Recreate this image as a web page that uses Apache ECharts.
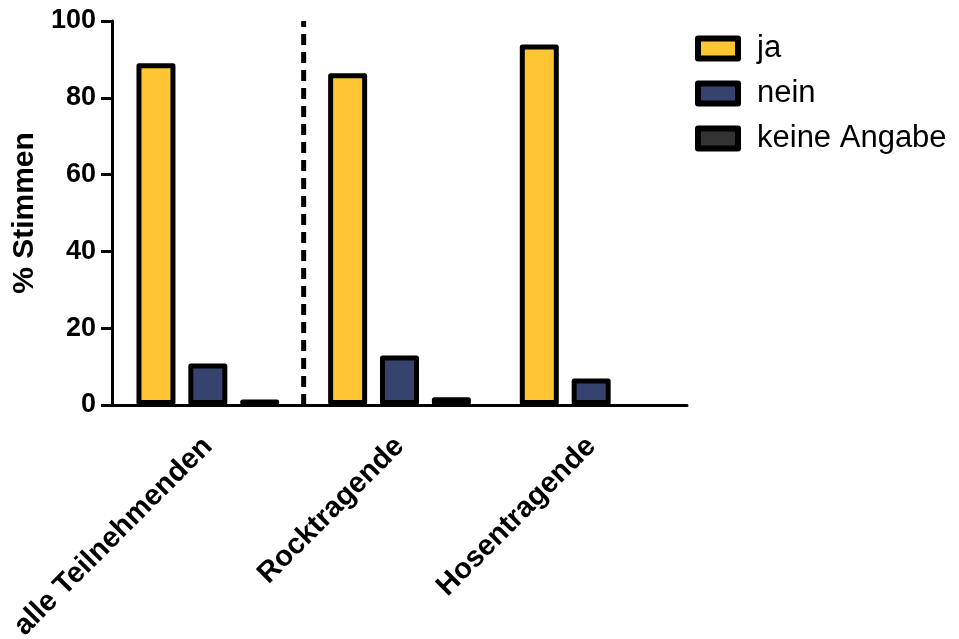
<!DOCTYPE html>
<html>
<head>
<meta charset="utf-8">
<script src="https://cdn.jsdelivr.net/npm/echarts@6/dist/echarts.min.js"></script>
<style>html,body{margin:0;padding:0;background:#fff}#c{width:959px;height:639px}</style>
</head>
<body>
<div id="c"></div>
<script>
const categories = ['alle Teilnehmenden', 'Rocktragende', 'Hosentragende'];
const seriesNames = ['ja', 'nein', 'keine Angabe'];
const jaValues = [89.0, 86.4, 93.9];
const neinValues = [10.8, 12.9, 6.9];
const keineValues = [1.4, 2.0, null];
const yTicks = [0, 20, 40, 60, 80, 100];
const dividerLine = [[1, 0], [1, 100]];

const FONT = '"Liberation Sans", Arial, sans-serif';
const colors = ['#FFC533', '#36436F', '#333333'];
const chart = echarts.init(document.getElementById('c'));
const barStyle = c => ({ color: c, borderColor: '#000', borderWidth: 5, borderJoin: 'round' });

chart.setOption({
  animation: false,
  backgroundColor: '#fff',
  grid: { left: 112, right: 272, top: 21, bottom: 234, containLabel: false, outerBoundsMode: 'none' },
  legend: {
    data: seriesNames,
    orient: 'vertical',
    left: 690,
    top: 28,
    icon: 'rect',
    itemWidth: 40,
    itemHeight: 20,
    itemGap: 14,
    itemStyle: { borderWidth: 6, borderColor: '#000' },
    textStyle: { fontFamily: FONT, fontSize: 31, lineHeight: 20, color: '#000', padding: [0, 0, 0, 14] },
    selectedMode: false
  },
  xAxis: [{
    type: 'category',
    data: categories,
    axisLine: { lineStyle: { color: '#000', width: 3 } },
    axisTick: { alignWithLabel: true, length: 12, lineStyle: { color: '#000', width: 3 } },
    axisLabel: { rotate: 45, margin: 37, fontFamily: FONT, fontWeight: 'bold', fontSize: 29, color: '#000' }
  }, {
    type: 'value', min: 0, max: 3, show: false
  }],
  yAxis: {
    type: 'value',
    min: yTicks[0],
    max: yTicks[yTicks.length - 1],
    interval: 20,
    name: '% Stimmen',
    nameLocation: 'middle',
    nameGap: 60,
    nameTextStyle: { fontFamily: FONT, fontWeight: 'bold', fontSize: 30, color: '#000' },
    splitLine: { show: false },
    axisLine: { show: true, lineStyle: { color: '#000', width: 3 } },
    axisTick: { show: true, length: 11, lineStyle: { color: '#000', width: 3 } },
    axisLabel: { margin: 16, fontFamily: FONT, fontWeight: 'bold', fontSize: 27, color: '#000' }
  },
  series: [
    { name: seriesNames[0], type: 'bar', data: jaValues, barWidth: 39, barGap: '33%', itemStyle: barStyle(colors[0]) },
    { name: seriesNames[1], type: 'bar', data: neinValues, barWidth: 39, barGap: '33%', itemStyle: barStyle(colors[1]) },
    { name: seriesNames[2], type: 'bar', data: keineValues, barWidth: 39, barGap: '33%', itemStyle: barStyle(colors[2]) },
    { name: 'divider', type: 'line', xAxisIndex: 1, data: dividerLine, symbol: 'none', silent: true,
      lineStyle: { color: '#000', width: 5, type: [11, 7] } }
  ]
});
</script>
</body>
</html>
